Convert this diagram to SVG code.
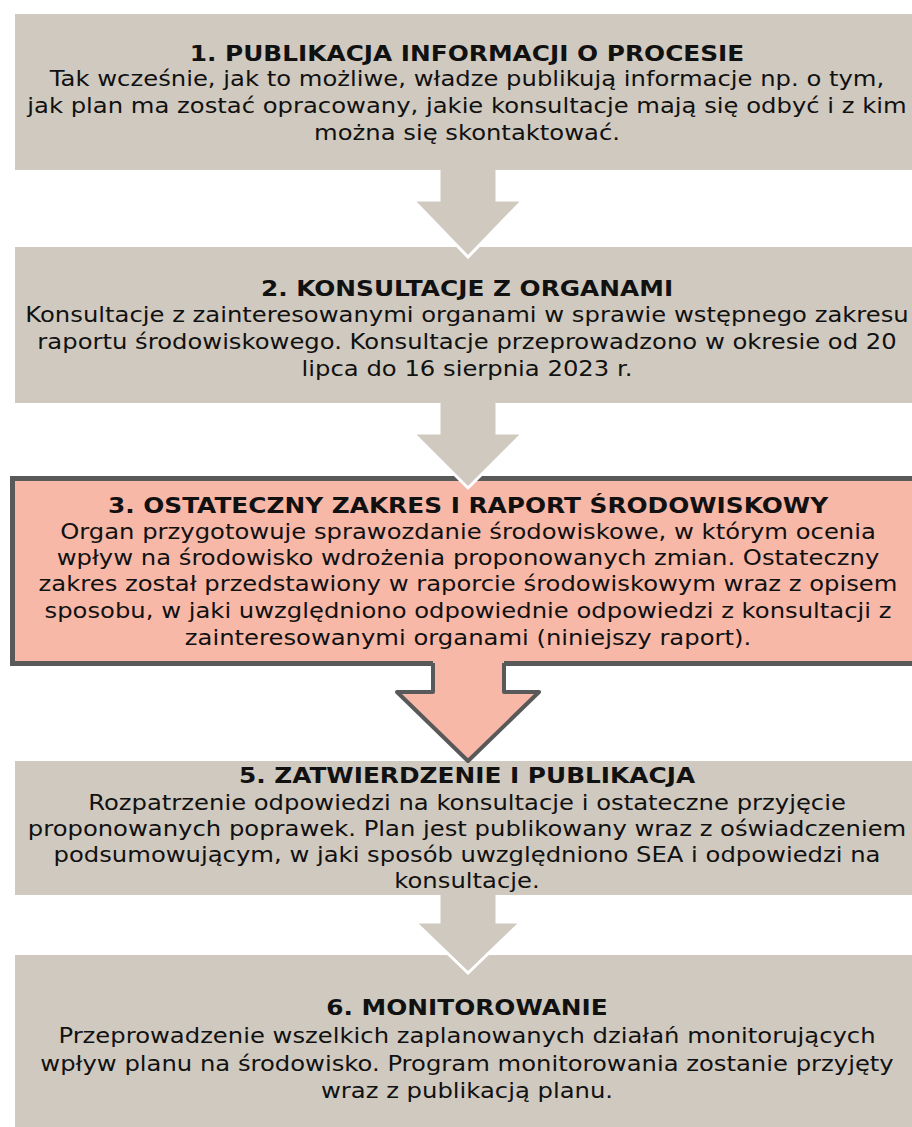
<svg xmlns="http://www.w3.org/2000/svg" width="912" height="1127" viewBox="0 0 912 1127">
  <style>
    .box { fill: #D0C9BF; }
    .hot { fill: #F8B8A8; stroke: #595959; stroke-width: 5; }
    .t { font-family: "DejaVu Sans", Verdana, sans-serif; font-size: 20.75px; fill: #111; text-anchor: middle; }
    .h { font-weight: bold; font-size: 21.2px; }
    .afill { fill: #D0C9BF; stroke: none; }
    .aline { fill: none; stroke: #FFFFFF; stroke-width: 3; stroke-linejoin: miter; }
    .pfill { fill: #F8B8A8; stroke: none; }
    .pline { fill: none; stroke: #595959; stroke-width: 4; stroke-linejoin: round; }
  </style>
  <rect width="912" height="1127" fill="#FFFFFF"/>

  <g id="step1">
    <rect class="box" x="15" y="14" width="920" height="156"/>
    <g transform="translate(467,0) scale(1.17,1)">
      <text class="t h" x="0" y="61">1. PUBLIKACJA INFORMACJI O PROCESIE</text>
      <text class="t" x="0" y="86">Tak wcześnie, jak to możliwe, władze publikują informacje np. o tym,</text>
      <text class="t" x="0" y="113">jak plan ma zostać opracowany, jakie konsultacje mają się odbyć i z kim</text>
      <text class="t" x="0" y="140">można się skontaktować.</text>
    </g>
  </g>

  <g id="step2">
    <rect class="box" x="15" y="247" width="920" height="156"/>
    <g transform="translate(467,0) scale(1.17,1)">
      <text class="t h" x="0" y="296">2. KONSULTACJE Z ORGANAMI</text>
      <text class="t" x="0" y="322">Konsultacje z zainteresowanymi organami w sprawie wstępnego zakresu</text>
      <text class="t" x="0" y="349">raportu środowiskowego. Konsultacje przeprowadzono w okresie od 20</text>
      <text class="t" x="0" y="376">lipca do 16 sierpnia 2023 r.</text>
    </g>
  </g>

  <g id="connectors-1">
    <polygon class="afill" points="439,168 497,168 497,200 523,200 468,257 413,200 439,200"/>
    <polyline class="aline" points="439,170 439,200 413,200 468,257 523,200 497,200 497,170"/>
  </g>

  <g id="step3">
    <rect class="hot" x="12.5" y="478.5" width="920" height="185"/>
    <g transform="translate(468,0) scale(1.17,1)">
      <text class="t h" x="0" y="513">3. OSTATECZNY ZAKRES I RAPORT ŚRODOWISKOWY</text>
      <text class="t" x="0" y="539">Organ przygotowuje sprawozdanie środowiskowe, w którym ocenia</text>
      <text class="t" x="0" y="565">wpływ na środowisko wdrożenia proponowanych zmian. Ostateczny</text>
      <text class="t" x="0" y="591">zakres został przedstawiony w raporcie środowiskowym wraz z opisem</text>
      <text class="t" x="0" y="618">sposobu, w jaki uwzględniono odpowiednie odpowiedzi z konsultacji z</text>
      <text class="t" x="0" y="645">zainteresowanymi organami (niniejszy raport).</text>
    </g>
  </g>

  <g id="connectors-2">
    <polygon class="afill" points="439,401 497,401 497,433 523,433 468,488 413,433 439,433"/>
    <polyline class="aline" points="439,403 439,433 413,433 468,488 523,433 497,433 497,403"/>
  </g>

  <g id="step5">
    <rect class="box" x="15" y="761" width="920" height="134"/>
    <g transform="translate(467,0) scale(1.17,1)">
      <text class="t h" x="0" y="783">5. ZATWIERDZENIE I PUBLIKACJA</text>
      <text class="t" x="0" y="810">Rozpatrzenie odpowiedzi na konsultacje i ostateczne przyjęcie</text>
      <text class="t" x="0" y="836">proponowanych poprawek. Plan jest publikowany wraz z oświadczeniem</text>
      <text class="t" x="0" y="862">podsumowującym, w jaki sposób uwzględniono SEA i odpowiedzi na</text>
      <text class="t" x="0" y="888">konsultacje.</text>
    </g>
  </g>

  <g id="connectors-3">
    <polygon class="pfill" points="433,658 504,658 504,692 539,692 468,761 397,692 433,692"/>
    <polyline class="pline" points="433,663 433,692 397,692 468,761 539,692 504,692 504,663"/>
  </g>

  <g id="step6">
    <rect class="box" x="15" y="955" width="920" height="172"/>
    <g transform="translate(467,0) scale(1.17,1)">
      <text class="t h" x="0" y="1015">6. MONITOROWANIE</text>
      <text class="t" x="0" y="1043">Przeprowadzenie wszelkich zaplanowanych działań monitorujących</text>
      <text class="t" x="0" y="1071">wpływ planu na środowisko. Program monitorowania zostanie przyjęty</text>
      <text class="t" x="0" y="1098">wraz z publikacją planu.</text>
    </g>
  </g>

  <g id="connectors-4">
    <polygon class="afill" points="439,893 497,893 497,922 521,922 468,973 415,922 439,922"/>
    <polyline class="aline" points="439,895 439,922 415,922 468,973 521,922 497,922 497,895"/>
  </g>
</svg>
